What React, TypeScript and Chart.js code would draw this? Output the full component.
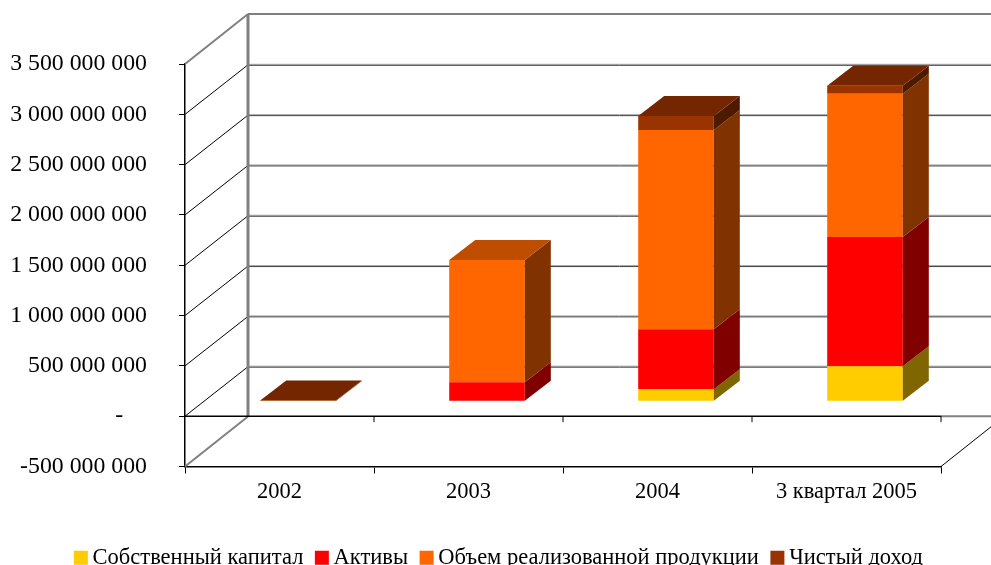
import React, { useEffect, useRef } from "react";
import { Chart, registerables } from "chart.js";

Chart.register(...registerables);

const categories = ["2002", "2003", "2004", "3 квартал 2005"];
const equity = [1000000, 0, 119000000, 348000000];
const assets = [2000000, 189000000, 597000000, 1284000000];
const sales = [2000000, 1214000000, 1980000000, 1423000000];
const income = [1000000, 0, 139000000, 80000000];
const seriesNames = ["Собственный капитал", "Активы", "Объем реализованной продукции", "Чистый доход"];
const frontColors = ["#FFCC00", "#FF0000", "#FF6600", "#993300"];
const sideColors = ["#806600", "#800000", "#803300", "#4D1A00"];
const topColors = ["#BF9900", "#BF0000", "#BF4D00", "#732600"];

const FONT = "'Liberation Serif', 'Times New Roman', serif";
const BAR_SHIFT = { x: 18.5, y: -15 };
const BAR_DEPTH = { x: 26, y: -20 };
const WALL = { x: 63, y: -50 };

function line(ctx: CanvasRenderingContext2D, x1: number, y1: number, x2: number, y2: number, color: string, w: number) {
  ctx.beginPath();
  ctx.moveTo(x1, y1);
  ctx.lineTo(x2, y2);
  ctx.strokeStyle = color;
  ctx.lineWidth = w;
  ctx.stroke();
}

function poly(ctx: CanvasRenderingContext2D, pts: number[][], color: string) {
  ctx.beginPath();
  pts.forEach((p, i) => (i ? ctx.lineTo(p[0], p[1]) : ctx.moveTo(p[0], p[1])));
  ctx.closePath();
  ctx.fillStyle = color;
  ctx.fill();
}

const box3d = {
  id: "box3d",
  beforeDatasetsDraw(chart: any) {
    const { ctx, scales, chartArea, width } = chart;
    const y = scales.y;
    const { left, right, bottom } = chartArea;
    const bx = left + WALL.x;
    ctx.save();
    const top = y.getPixelForValue(3500000000);
    const zero = y.getPixelForValue(0);
    y.ticks.forEach((t: any) => {
      if (t.value === 3500000000 || t.value === -500000000) return;
      const py = y.getPixelForValue(t.value);
      const by = py + WALL.y + 0.5;
      line(ctx, left, py, bx, by, "#000000", 1);
      line(ctx, bx, by - 0.5, width, by - 0.5, "#A6A6A6", 1);
      line(ctx, bx, by + 0.5, width, by + 0.5, "#404040", 1);
    });
    line(ctx, bx, top + WALL.y, width, top + WALL.y, "#808080", 2);
    line(ctx, left, top, bx, top + WALL.y, "#808080", 2);
    line(ctx, left, bottom, bx, bottom + WALL.y, "#808080", 2);
    line(ctx, bx, top + WALL.y, bx, bottom + WALL.y, "#808080", 3);
    line(ctx, right, bottom, right + WALL.x, bottom + WALL.y, "#000000", 1);
    line(ctx, left, zero, right, zero, "#000000", 1.5);
    line(ctx, right, zero, width, zero, "#808080", 2);
    const step = (right - left) / categories.length;
    for (let i = 1; i <= categories.length; i++) {
      const tx = left + step * i;
      line(ctx, tx, zero, tx, zero + 6, "#000000", 1);
    }
    ctx.restore();
    ctx.save();
    ctx.translate(BAR_SHIFT.x, BAR_SHIFT.y);
  },
  afterDatasetsDraw(chart: any) {
    const { ctx } = chart;
    const n = chart.data.labels.length;
    chart.data.datasets.forEach((ds: any, di: number) => {
      const meta = chart.getDatasetMeta(di);
      meta.data.forEach((bar: any, i: number) => {
        if (!ds.data[i]) return;
        const r = bar.x + bar.width / 2;
        poly(ctx, [[r, bar.y], [r + BAR_DEPTH.x, bar.y + BAR_DEPTH.y], [r + BAR_DEPTH.x, bar.base + BAR_DEPTH.y], [r, bar.base]], sideColors[di]);
      });
    });
    for (let i = 0; i < n; i++) {
      for (let di = chart.data.datasets.length - 1; di >= 0; di--) {
        if (chart.data.datasets[di].data[i]) {
          const bar = chart.getDatasetMeta(di).data[i];
          const l = bar.x - bar.width / 2;
          const r = bar.x + bar.width / 2;
          poly(ctx, [[l, bar.y], [r, bar.y], [r + BAR_DEPTH.x, bar.y + BAR_DEPTH.y], [l + BAR_DEPTH.x, bar.y + BAR_DEPTH.y]], topColors[di]);
          break;
        }
      }
    }
    ctx.restore();
  },
};

function formatTick(v: number) {
  if (v === 0) return "-    ";
  const s = Math.abs(v).toString().replace(/\B(?=(\d{3})+(?!\d))/g, " ");
  return (v < 0 ? "-" : "") + s;
}

export default function App() {
  const ref = useRef<HTMLCanvasElement>(null);
  useEffect(() => {
    document.body.style.margin = "0";
    const values = [equity, assets, sales, income];
    const chart = new Chart(ref.current!, {
      type: "bar",
      data: {
        labels: categories,
        datasets: seriesNames.map((label, i) => ({
          label,
          data: values[i],
          backgroundColor: frontColors[i],
          borderWidth: 0,
          barPercentage: 0.4,
          categoryPercentage: 1,
          clip: false as any,
          pointStyle: "rect",
        })),
      },
      options: {
        responsive: false,
        animation: false,
        layout: { padding: { left: 0, right: 50, top: 64, bottom: -14 } },
        plugins: {
          tooltip: { enabled: false },
          legend: {
            position: "bottom",
            align: "end",
            labels: {
              usePointStyle: true,
              boxWidth: 1,
              boxHeight: 14,
              padding: 18,
              color: "#000000",
              font: { family: FONT, size: 22.5 },
            },
          },
        },
        scales: {
          x: {
            stacked: true,
            afterFit: (s: any) => { s.height = 62; },
            grid: { drawOnChartArea: false, color: "#000000", tickLength: 7, lineWidth: 1 },
            border: { color: "#000000", width: 1.5 },
            ticks: { color: "#000000", font: { family: FONT, size: 22.5 }, padding: 5, maxRotation: 0 },
          },
          y: {
            stacked: true,
            min: -500000000,
            max: 3500000000,
            afterFit: (s: any) => { s.width = 185; },
            grid: { drawOnChartArea: false, color: "#000000", tickLength: 6, lineWidth: 1 },
            border: { color: "#000000", width: 1.5 },
            ticks: {
              stepSize: 500000000,
              color: "#000000",
              font: { family: FONT, size: 23.8 },
              padding: 32,
              callback: (v: any) => formatTick(Number(v)),
            },
          },
        },
      },
      plugins: [box3d],
    } as any);
    return () => chart.destroy();
  }, []);
  return <canvas ref={ref} width={991} height={565} style={{ display: "block", background: "#fff" }} />;
}
